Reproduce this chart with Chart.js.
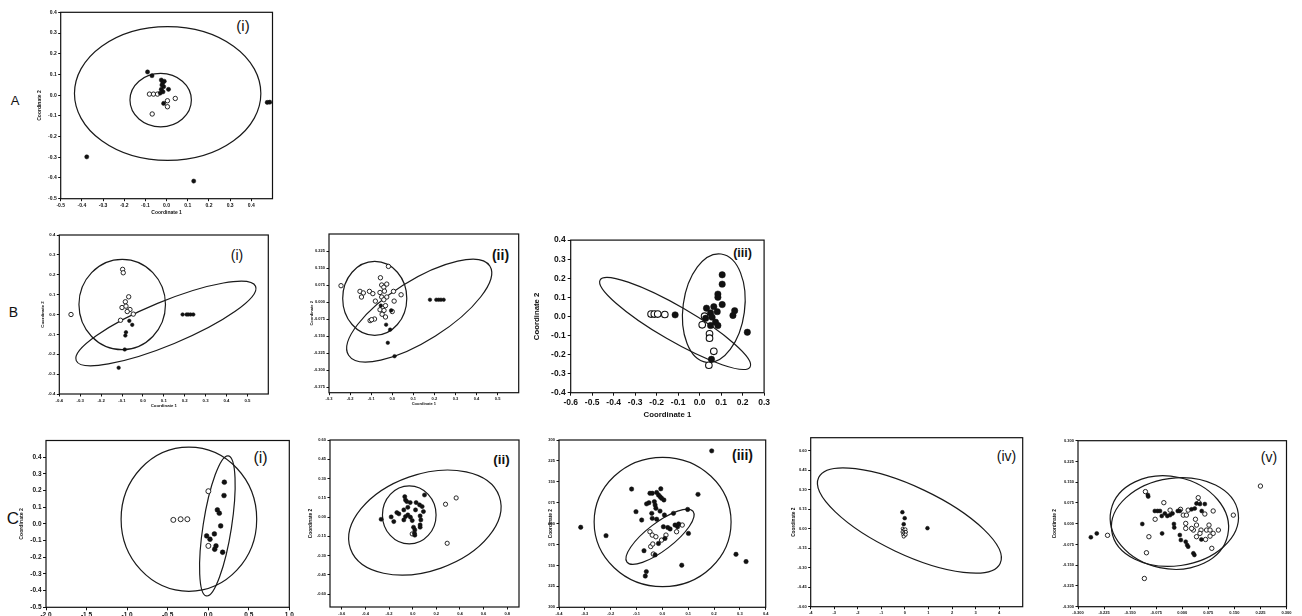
<!DOCTYPE html>
<html>
<head>
<meta charset="utf-8">
<script src="https://cdn.jsdelivr.net/npm/chart.js@4.4.1/dist/chart.umd.min.js"></script>
<style>
  html, body { margin: 0; padding: 0; background: #fff; }
  body { width: 1302px; height: 616px; overflow: hidden; position: relative;
         font-family: "Liberation Sans", Arial, sans-serif; }
  canvas { position: absolute; }
  .lbl { position: absolute; color: #111; line-height: 1; white-space: nowrap;
         transform: translate(-50%, -50%); }
</style>
</head>
<body>
<div class="lbl" style="left:15px;top:100px;font-size:13px;">A</div>
<div class="lbl" style="left:13.5px;top:312px;font-size:14px;">B</div>
<div class="lbl" style="left:13px;top:518px;font-size:17px;">C</div>

<div class="lbl" style="left:243px;top:25px;font-size:15px;">(i)</div>
<div class="lbl" style="left:237px;top:255px;font-size:14px;">(i)</div>
<div class="lbl" style="left:500.5px;top:255px;font-size:14px;font-weight:bold;">(ii)</div>
<div class="lbl" style="left:742.5px;top:252.5px;font-size:12.5px;font-weight:bold;">(iii)</div>
<div class="lbl" style="left:260.5px;top:457.5px;font-size:16px;">(i)</div>
<div class="lbl" style="left:501.5px;top:460px;font-size:13.5px;font-weight:bold;">(ii)</div>
<div class="lbl" style="left:742.5px;top:455px;font-size:14px;font-weight:bold;">(iii)</div>
<div class="lbl" style="left:1006.5px;top:456px;font-size:14px;">(iv)</div>
<div class="lbl" style="left:1269px;top:456.5px;font-size:14px;">(v)</div>

<script>
// ---- Panel A (i) ----
const aFilled = [[-0.090,0.112],[-0.069,0.094],[-0.025,0.073],[-0.011,0.067],[-0.018,0.060],[-0.022,0.049],
  [-0.014,0.041],[-0.025,0.028],[-0.017,0.016],[0.009,0.028],[-0.030,0.010],[-0.014,-0.040],
  [-0.377,-0.298],[0.128,-0.415],[0.475,-0.035],[0.487,-0.034]];
const aOpen = [[-0.081,0.005],[-0.062,0.005],[-0.043,0.005],[0.004,-0.027],[0.041,-0.016],[0.004,-0.056],[-0.068,-0.091]];
// ellipse: centre x, centre y, major-axis end x, y, minor-axis end x, y
const aEllipses = [[0.005,0.008,0.445,0.008,0.005,0.331],[-0.028,-0.024,0.117,-0.024,-0.028,0.105]];
const aTicksX = [-0.5,-0.4,-0.3,-0.2,-0.1,0.0,0.1,0.2,0.3,0.4];
const aTicksY = [-0.5,-0.4,-0.3,-0.2,-0.1,0.0,0.1,0.2,0.3,0.4];

// ---- Panel B (i) ----
const b1Filled = [[-0.065,-0.032],[-0.051,-0.052],[-0.081,-0.089],[-0.084,-0.106],[-0.087,-0.176],[-0.116,-0.268],
  [0.190,0.0],[0.209,0.0],[0.217,0.0],[0.228,0.0],[0.241,0.0]];
const b1Open = [[-0.344,0.0],[-0.097,0.227],[-0.094,0.210],[-0.068,0.089],[-0.084,0.064],[-0.100,0.035],
  [-0.081,0.042],[-0.062,0.025],[-0.075,0.015],[-0.046,0.002],[-0.107,-0.029]];
const b1Ellipses = [[-0.099,0.050,0.108,0.050,-0.099,0.277],[0.110,-0.045,0.539,0.142,0.150,-0.146]];
const b1TicksX = [-0.4,-0.3,-0.2,-0.1,0.0,0.1,0.2,0.3,0.4,0.5];
const b1TicksY = [-0.4,-0.3,-0.2,-0.1,0.0,0.1,0.2,0.3,0.4];

// ---- Panel B (ii) ----
const b2Filled = [[-0.054,-0.016],[-0.005,-0.037],[-0.029,-0.100],[-0.010,-0.122],[-0.021,-0.180],[0.011,-0.239],
  [0.179,0.010],[0.209,0.010],[0.220,0.010],[0.231,0.010],[0.244,0.010]];
const b2Open = [[-0.243,0.072],[-0.018,0.157],[-0.056,0.107],[-0.050,0.075],[-0.026,0.079],[-0.040,0.065],
  [-0.153,0.047],[-0.137,0.040],[-0.146,0.022],[-0.108,0.047],[-0.092,0.037],[-0.058,0.042],[-0.037,0.048],
  [0.006,0.047],[0.042,0.032],[-0.080,0.004],[-0.050,0.022],[-0.026,0.022],[-0.040,0.010],[0.009,0.004],
  [-0.032,-0.016],[-0.058,-0.034],[-0.039,-0.037],[0.000,-0.042],[-0.048,-0.054],[-0.032,-0.066],
  [-0.084,-0.075],[-0.105,-0.082],[-0.098,-0.078]];
const b2Ellipses = [[-0.083,0.016,0.069,0.016,-0.083,0.179],[0.128,-0.038,0.463,0.159,0.205,-0.150]];
const b2TicksX = [-0.3,-0.2,-0.1,0.0,0.1,0.2,0.3,0.4,0.5];
const b2TicksY = [-0.375,-0.300,-0.225,-0.150,-0.075,0.000,0.075,0.150,0.225];

// ---- Panel B (iii) ----
const b3Filled = [[-0.114,0.008],[0.032,0.043],[0.066,0.051],[0.105,0.218],[0.105,0.169],[0.085,0.117],
  [0.085,0.100],[0.105,0.062],[0.082,0.025],[0.051,0.018],[0.058,-0.004],[0.074,-0.030],[0.085,-0.048],
  [0.051,-0.048],[0.028,-0.010],[0.163,0.030],[0.155,0.005],[0.222,-0.083],[0.055,-0.225]];
const b3Open = [[-0.226,0.012],[-0.211,0.012],[-0.195,0.012],[-0.162,0.010],[0.023,0.001],[0.012,-0.044],
  [0.046,-0.091],[0.046,-0.114],[0.066,-0.183],[0.043,-0.256]];
const b3Ellipses = [[0.066,0.043,0.100,0.327,0.208,0.021],[-0.114,-0.037,0.235,-0.265,-0.074,0.041]];
const b3TicksX = [-0.6,-0.5,-0.4,-0.3,-0.2,-0.1,0.0,0.1,0.2,0.3];
const b3TicksY = [-0.4,-0.3,-0.2,-0.1,0.0,0.1,0.2,0.3,0.4];

// ---- Panel C (i) ----
const c1Filled = [[0.199,0.250],[0.195,0.170],[0.113,0.084],[0.137,0.064],[0.154,-0.012],[0.076,-0.060],
  [-0.019,-0.072],[0.022,-0.092],[0.096,-0.132],[0.080,-0.152],[0.178,-0.170]];
const c1Open = [[-0.430,0.024],[-0.340,0.028],[-0.257,0.028],[0.002,0.196],[0.002,-0.132]];
const c1Ellipses = [[-0.238,0.028,0.598,0.028,-0.238,0.460],[0.113,-0.012,0.248,0.408,0.286,-0.025]];
const c1TicksX = [-2.0,-1.5,-1.0,-0.5,0.0,0.5,1.0];
const c1TicksY = [-0.5,-0.4,-0.3,-0.2,-0.1,0.0,0.1,0.2,0.3,0.4];

// ---- Panel C (ii) ----
const c2Filled = [[-0.267,-0.017],[-0.182,0.001],[-0.160,-0.035],[-0.134,0.035],[-0.117,0.025],[-0.067,0.159],
  [-0.061,0.133],[-0.050,0.121],[-0.021,0.113],[-0.075,0.056],[-0.041,0.076],[-0.075,-0.022],[-0.061,0.004],
  [-0.041,0.017],[-0.019,-0.001],[-0.004,-0.027],[0.029,0.113],[0.024,0.056],[0.058,0.095],[0.080,0.082],
  [0.091,0.043],[0.063,0.009],[0.069,-0.022],[0.063,-0.061],[0.063,-0.079],[0.007,-0.079],[0.018,-0.100],
  [0.018,-0.141],[0.015,-0.126],[0.100,0.172]];
const c2Open = [[-0.004,-0.131],[0.278,0.100],[0.368,0.149],[0.292,-0.204]];
const c2Ellipses = [[-0.029,0.017,0.198,0.017,-0.029,0.243],[0.103,-0.043,0.733,0.161,0.239,-0.397]];
const c2TicksX = [-0.6,-0.4,-0.2,0.0,0.2,0.4,0.6,0.8];
const c2TicksY = [-0.60,-0.45,-0.30,-0.15,0.00,0.15,0.30,0.45,0.60];

// ---- Panel C (iii) ----
const c3Filled = [[0.191,0.261],[-0.316,-0.013],[-0.218,-0.043],[-0.119,0.124],[-0.102,0.043],[-0.080,0.013],
  [-0.048,0.109],[-0.039,0.109],[-0.022,0.112],[-0.006,0.125],[-0.015,0.103],[-0.009,0.097],[-0.003,0.091],
  [0.006,0.085],[-0.061,0.071],[-0.052,0.075],[-0.031,0.079],[-0.028,0.067],[-0.025,0.055],[-0.009,0.045],
  [-0.041,0.037],[-0.039,0.019],[-0.022,0.016],[0.008,0.031],[0.043,0.037],[0.098,0.051],[0.138,0.105],
  [0.101,-0.035],[0.004,-0.011],[0.021,-0.014],[0.030,-0.019],[0.049,-0.005],[0.059,-0.011],[0.063,-0.001],
  [0.010,-0.053],[-0.015,-0.071],[-0.028,-0.112],[-0.071,-0.097],[-0.062,-0.172],[-0.066,-0.188],
  [0.075,-0.149],[0.285,-0.110],[0.324,-0.136]];
const c3Open = [[-0.048,-0.029],[-0.039,-0.041],[-0.025,-0.047],[-0.045,-0.082],[-0.037,-0.073],[-0.003,-0.059],
  [0.014,-0.041],[0.055,-0.029],[0.077,-0.005],[-0.035,-0.109]];
const c3Ellipses = [[0.001,0.006,0.266,0.006,0.001,0.238],[-0.009,-0.047,0.119,0.044,0.023,-0.086]];
const c3TicksX = [-0.4,-0.3,-0.2,-0.1,0.0,0.1,0.2,0.3,0.4];
const c3TicksY = [-0.300,-0.225,-0.150,-0.075,0.000,0.075,0.150,0.225,0.300];

// ---- Panel C (iv) ----
const c4Filled = [[-0.108,0.127],[-0.009,0.081],[-0.051,0.035],[0.957,0.004]];
const c4Open = [[-0.09,0.000],[-0.04,-0.010],[0.02,-0.005],[-0.10,-0.025],[-0.03,-0.030],[0.04,-0.025],
  [-0.07,-0.045],[0.00,-0.050],[-0.05,-0.060],[0.03,-0.045]];
const c4Ellipses = [[0.190,0.063,4.043,-0.267,0.803,0.297]];
const c4TicksX = [-4,-3,-2,-1,0,1,2,3,4];
const c4TicksY = [-0.60,-0.45,-0.30,-0.15,0.00,0.15,0.30,0.45,0.60];

// ---- Panel C (v) ----
const c5Filled = [[-0.263,-0.049],[-0.246,-0.035],[-0.115,-0.001],[-0.099,0.104],[-0.098,0.098],[-0.079,0.046],
  [-0.071,0.046],[-0.064,0.046],[-0.050,0.037],[-0.043,0.028],[-0.035,0.031],[-0.028,0.037],[-0.059,0.028],
  [-0.058,-0.035],[-0.024,-0.001],[-0.023,-0.014],[-0.013,0.046],[-0.007,0.046],[-0.007,-0.041],[-0.004,-0.059],
  [0.010,-0.065],[0.014,-0.077],[0.017,-0.083],[0.032,-0.107],[0.035,-0.113],[0.027,0.052],[0.036,0.055],
  [0.041,0.073],[0.051,0.071],[0.065,0.071],[0.056,0.046],[0.055,-0.057]];
const c5Open = [[0.225,0.136],[0.147,0.031],[-0.106,0.116],[-0.053,0.076],[-0.078,0.016],[-0.096,-0.047],
  [-0.103,-0.105],[-0.109,-0.198],[-0.215,-0.042],[-0.035,0.049],[-0.005,0.052],[0.003,0.031],[0.012,0.031],
  [0.017,0.049],[0.046,0.094],[0.048,0.076],[0.065,0.035],[0.089,0.046],[0.038,0.016],[0.010,0.001],
  [0.010,-0.017],[0.032,-0.023],[0.041,-0.005],[0.054,-0.023],[0.041,-0.047],[0.051,-0.035],[0.070,-0.023],
  [0.077,-0.005],[0.080,-0.023],[0.089,-0.035],[0.080,-0.045],[0.104,-0.023],[0.067,-0.057],[0.085,-0.089],
  [0.027,-0.017]];
const c5Ellipses = [[-0.037,0.004,0.131,-0.041,-0.065,-0.159],[-0.021,0.006,0.161,0.038,-0.004,-0.151]];
const c5TicksX = [-0.300,-0.225,-0.150,-0.075,0.000,0.075,0.150,0.225,0.300];
const c5TicksY = [-0.300,-0.225,-0.150,-0.075,0.000,0.075,0.150,0.225,0.300];

// Confidence ellipses, drawn in data space through the chart's scales
const ellipsePlugin = {
  id: 'ellipses',
  beforeDatasetsDraw(chart, args, opts) {
    const { ctx } = chart;
    const xs = chart.scales.x, ys = chart.scales.y;
    ctx.save();
    ctx.strokeStyle = '#1a1a1a';
    ctx.lineWidth = opts.width || 1.2;
    for (const e of (opts.list || [])) {
      const cx = xs.getPixelForValue(e[0]), cy = ys.getPixelForValue(e[1]);
      const ux = xs.getPixelForValue(e[2]) - cx, uy = ys.getPixelForValue(e[3]) - cy;
      const vx = xs.getPixelForValue(e[4]) - cx, vy = ys.getPixelForValue(e[5]) - cy;
      ctx.save();
      ctx.beginPath();
      ctx.transform(ux, uy, vx, vy, cx, cy);
      ctx.arc(0, 0, 1, 0, Math.PI * 2);
      ctx.restore();
      ctx.stroke();
    }
    ctx.restore();
  }
};

// Box frame around the plotting area
const framePlugin = {
  id: 'frame',
  afterDraw(chart, args, opts) {
    const a = chart.chartArea, ctx = chart.ctx;
    ctx.save();
    ctx.strokeStyle = '#111';
    ctx.lineWidth = opts.width || 1.2;
    ctx.strokeRect(a.left, a.top, a.right - a.left, a.bottom - a.top);
    ctx.restore();
  }
};

function fmt(dec) {
  return v => (Math.abs(v) < 1e-9 ? 0 : v).toFixed(dec);
}

function addPanel(p) {
  const [bl, bt, br, bb] = p.box;
  const yLH = p.titleSize * 1.2;
  const cl = Math.floor(p.yTitleX - yLH / 2);
  const ct = Math.floor(bt - 6);
  const cr = Math.ceil(br + 6);
  let cb, xh, padB;
  if (p.xTitleY != null) {
    const end = p.xTitleY + p.titleSize * 1.2 / 2;
    cb = Math.ceil(end);
    xh = end - bb;
    padB = cb - end;
  } else {
    cb = Math.ceil(bb + 16);
    xh = cb - bb;
    padB = 0;
  }
  const cv = document.createElement('canvas');
  cv.width = cr - cl; cv.height = cb - ct;
  cv.style.left = cl + 'px'; cv.style.top = ct + 'px';
  cv.style.width = (cr - cl) + 'px'; cv.style.height = (cb - ct) + 'px';
  document.body.appendChild(cv);

  const tickFont = { family: 'Liberation Sans', size: p.tickSize, weight: 'bold' };
  const titleFont = { family: 'Liberation Sans', size: p.titleSize, weight: 'bold' };
  const grid = { display: true, drawOnChartArea: false, drawTicks: true, tickLength: p.tickLen, color: '#111', lineWidth: 1 };

  new Chart(cv, {
    type: 'scatter',
    data: {
      datasets: [
        { data: p.filled.map(d => ({ x: d[0], y: d[1] })), pointRadius: p.rFilled, pointBorderWidth: 0.5,
          pointBackgroundColor: '#111', pointBorderColor: '#111', showLine: false },
        { data: p.open.map(d => ({ x: d[0], y: d[1] })), pointRadius: p.rOpen, pointBorderWidth: p.openBorder || 0.9,
          pointBackgroundColor: '#fff', pointBorderColor: '#111', showLine: false }
      ]
    },
    options: {
      responsive: false, animation: false, devicePixelRatio: 1,
      events: [],
      layout: { autoPadding: false, padding: { left: 0, top: bt - ct, right: cr - br, bottom: padB } },
      plugins: {
        legend: { display: false }, tooltip: { enabled: false },
        ellipses: { list: p.ellipses, width: p.ellW || 1.2 },
        frame: { width: 1.2 }
      },
      scales: {
        x: {
          type: 'linear', position: 'bottom', min: p.xr[0], max: p.xr[1],
          afterFit: s => { s.height = xh; },
          afterBuildTicks: s => { s.ticks = p.xTicks.map(v => ({ value: v })); },
          ticks: { autoSkip: false, maxRotation: 0, minRotation: 0, padding: p.tickPad, color: '#111',
                   font: tickFont, callback: fmt(p.xDec) },
          grid: grid, border: { display: false },
          title: { display: p.xTitleY != null, text: 'Coordinate 1', color: '#111', font: titleFont, padding: 0 }
        },
        y: {
          type: 'linear', position: 'left', min: p.yr[0], max: p.yr[1],
          afterFit: s => { s.width = bl - cl; },
          afterBuildTicks: s => { s.ticks = p.yTicks.map(v => ({ value: v })); },
          ticks: { autoSkip: false, padding: p.tickPad, color: '#111', font: tickFont, callback: fmt(p.yDec) },
          grid: grid, border: { display: false },
          title: { display: true, text: 'Coordinate 2', color: '#111', font: titleFont, padding: 0 }
        }
      }
    },
    plugins: [ellipsePlugin, framePlugin]
  });
}

addPanel({ box: [60.7, 12.3, 272.5, 198.7], xr: [-0.5, 0.5], yr: [-0.5, 0.4], xTicks: aTicksX, yTicks: aTicksY,
  xDec: 1, yDec: 1, tickSize: 5, titleSize: 5, tickLen: 2.5, tickPad: 1.5, yTitleX: 40, xTitleY: 213,
  filled: aFilled, open: aOpen, ellipses: aEllipses, rFilled: 2.1, rOpen: 2.2 });

addPanel({ box: [59.3, 235, 268.3, 394], xr: [-0.4, 0.6], yr: [-0.4, 0.4], xTicks: b1TicksX, yTicks: b1TicksY,
  xDec: 1, yDec: 1, tickSize: 4.3, titleSize: 4.3, tickLen: 2.5, tickPad: 1.5, yTitleX: 43.3, xTitleY: 406,
  filled: b1Filled, open: b1Open, ellipses: b1Ellipses, rFilled: 1.8, rOpen: 2.2 });

addPanel({ box: [329, 234, 518.7, 392.7], xr: [-0.3, 0.6], yr: [-0.4, 0.3], xTicks: b2TicksX, yTicks: b2TicksY,
  xDec: 1, yDec: 3, tickSize: 4, titleSize: 4, tickLen: 2.5, tickPad: 1.5, yTitleX: 311.7, xTitleY: 404,
  filled: b2Filled, open: b2Open, ellipses: b2Ellipses, rFilled: 1.8, rOpen: 2.2 });

addPanel({ box: [570.7, 239, 765.7, 392.7], xr: [-0.6, 0.3], yr: [-0.4, 0.4], xTicks: b3TicksX, yTicks: b3TicksY,
  xDec: 1, yDec: 1, tickSize: 8.5, titleSize: 7.8, tickLen: 3, tickPad: 2, yTitleX: 537, xTitleY: 415,
  filled: b3Filled, open: b3Open, ellipses: b3Ellipses, rFilled: 3.2, rOpen: 3.3, openBorder: 1.1 });

addPanel({ box: [46, 440.5, 289.3, 607.3], xr: [-2, 1], yr: [-0.5, 0.5], xTicks: c1TicksX, yTicks: c1TicksY,
  xDec: 1, yDec: 1, tickSize: 6.5, titleSize: 5.2, tickLen: 3, tickPad: 1.5, yTitleX: 22, xTitleY: null,
  filled: c1Filled, open: c1Open, ellipses: c1Ellipses, rFilled: 2.4, rOpen: 2.5 });

addPanel({ box: [330, 440, 519, 607], xr: [-0.7, 0.9], yr: [-0.7, 0.6], xTicks: c2TicksX, yTicks: c2TicksY,
  xDec: 1, yDec: 2, tickSize: 4, titleSize: 4.8, tickLen: 2.5, tickPad: 1.5, yTitleX: 311.7, xTitleY: null,
  filled: c2Filled, open: c2Open, ellipses: c2Ellipses, rFilled: 2.1, rOpen: 2.1 });

addPanel({ box: [559, 440, 765.7, 607.3], xr: [-0.4, 0.4], yr: [-0.3, 0.3], xTicks: c3TicksX, yTicks: c3TicksY,
  xDec: 1, yDec: 3, tickSize: 4, titleSize: 4.8, tickLen: 2.5, tickPad: 1.5, yTitleX: 551, xTitleY: null,
  filled: c3Filled, open: c3Open, ellipses: c3Ellipses, rFilled: 2.2, rOpen: 2.2 });

addPanel({ box: [810.7, 437.7, 1022.7, 606.7], xr: [-4, 5], yr: [-0.6, 0.7], xTicks: c4TicksX, yTicks: c4TicksY,
  xDec: 0, yDec: 2, tickSize: 4, titleSize: 4.8, tickLen: 2.5, tickPad: 1.5, yTitleX: 794, xTitleY: null,
  filled: c4Filled, open: c4Open, ellipses: c4Ellipses, rFilled: 1.9, rOpen: 1.6 });

addPanel({ box: [1078, 440.7, 1286.7, 606.7], xr: [-0.3, 0.3], yr: [-0.3, 0.3], xTicks: c5TicksX, yTicks: c5TicksY,
  xDec: 3, yDec: 3, tickSize: 4, titleSize: 4.8, tickLen: 2.5, tickPad: 1.5, yTitleX: 1055.7, xTitleY: null,
  filled: c5Filled, open: c5Open, ellipses: c5Ellipses, rFilled: 2.0, rOpen: 2.2 });
</script>
</body>
</html>
